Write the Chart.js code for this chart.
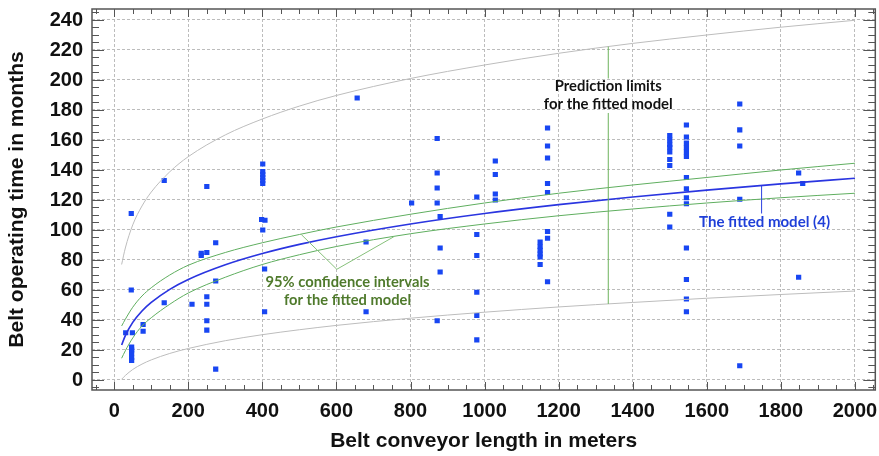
<!DOCTYPE html>
<html>
<head>
<meta charset="utf-8">
<script src="https://cdn.jsdelivr.net/npm/chart.js@4.4.0/dist/chart.umd.min.js"></script>
<style>
  html, body { margin: 0; padding: 0; background: #fff; }
</style>
</head>
<body>
<canvas id="chart" width="879" height="456"></canvas>
<script>
// observed data: belt conveyor length (m) vs operating time (months)
const pointX = [
  31, 46, 46, 49, 47, 47, 47, 47, 47,
  78, 78, 135, 135, 210, 235, 235,
  250, 250, 250, 250, 250, 250, 274, 274, 274,
  401, 401, 401, 401, 401, 401, 398, 407, 401, 406, 406,
  656, 680, 680, 803, 872, 872, 872, 872, 872, 880, 880, 880,
  979, 979, 979, 979, 979, 979, 1029, 1029, 1029, 1029,
  1150, 1150, 1150, 1150, 1150, 1150,
  1170, 1170, 1170, 1170, 1170, 1170, 1170, 1170,
  1500, 1500, 1500, 1500, 1500, 1500, 1500, 1500, 1500,
  1545, 1545, 1545, 1545, 1545, 1545, 1545, 1545, 1545, 1545, 1545, 1545, 1545, 1545,
  1689, 1689, 1689, 1689, 1689, 1848, 1848, 1859
];
const pointY = [
  31.5, 111, 60, 31.5, 22, 20, 18, 15, 13,
  37, 32.5, 133, 51.5, 50.5, 84.5, 83,
  129, 85, 55.5, 50.5, 39.5, 33.3, 91.5, 66, 7.3,
  144, 139, 137, 135, 133, 131, 107, 106.5, 100, 74, 45.5,
  188, 92, 45.5, 118, 161, 138, 128, 118, 39.5, 109, 88, 72,
  122, 97, 83, 58.5, 43, 26.7, 146, 137, 124, 120,
  92, 89, 86.5, 84, 82, 77,
  168, 156, 148, 131, 125, 99, 94.5, 65.5,
  163, 160, 157, 155, 152, 147, 143, 110.5, 102,
  170, 162, 158, 155, 152, 149, 135, 127.5, 121.5, 117.5, 88, 67, 54, 45.5,
  184, 166.7, 156, 120.5, 9.5, 138, 68.5, 131
];

// curves
const curveX     = [20, 30, 50, 75, 100, 150, 200, 300, 400, 500, 600, 800, 1000, 1200, 1400, 1600, 1800, 2000];
const fitted     = [23.3, 29.6, 38.4, 46, 51.7, 60.4, 67, 76.8, 84.3, 90.4, 95.5, 104, 111, 116.9, 122, 126.6, 130.7, 134.5];
const confUpper  = [36, 40.5, 48.5, 56, 61.5, 70, 76.5, 85, 91.5, 97, 102, 110.5, 118, 124.5, 130, 135, 140, 144.5];
const confLower  = [14.5, 19.5, 28, 36, 41.5, 50.5, 58, 68.5, 77, 83.5, 89, 97.5, 104, 109.5, 114, 118, 121.5, 124.5];
const predUpper  = [77, 88, 103.4, 116, 125.3, 138.8, 148.9, 163.4, 174, 182.6, 189.7, 201, 210, 217.8, 224.4, 230, 235.2, 239.8];
const predLower  = [0.5, 3, 7, 10.6, 13.4, 17.7, 21, 26.2, 30.2, 33.5, 36.4, 41.2, 45.2, 48.7, 51.7, 54.5, 57, 59.3];

const xTicks = [0, 200, 400, 600, 800, 1000, 1200, 1400, 1600, 1800, 2000];
const yTicks = [0, 20, 40, 60, 80, 100, 120, 140, 160, 180, 200, 220, 240];

function toXY(xs, ys) {
  return xs.map((x, i) => ({ x: x, y: ys[i] }));
}

const tickFont = { family: 'Liberation Sans', weight: 'bold', size: 20 };
const titleFont = { family: 'Liberation Sans', weight: 'bold', size: 21 };

// frame, inward tick marks and the callouts
const extrasPlugin = {
  id: 'extras',
  afterDatasetsDraw(chart) {
    const ctx = chart.ctx;
    const a = chart.chartArea;
    const xs = chart.scales.x;
    const ys = chart.scales.y;
    ctx.save();

    // ticks
    ctx.strokeStyle = '#555';
    ctx.lineWidth = 1;
    ctx.beginPath();
    for (let v = -50; v <= 2050; v += 50) {
      const px = Math.round(xs.getPixelForValue(v)) + 0.5;
      const len = v % 200 === 0 ? 8 : 5;
      ctx.moveTo(px, a.bottom); ctx.lineTo(px, a.bottom - len);
      ctx.moveTo(px, a.top); ctx.lineTo(px, a.top + len);
    }
    for (let v = -5; v <= 245; v += 5) {
      const py = Math.round(ys.getPixelForValue(v)) + 0.5;
      const len = v % 20 === 0 ? 12 : 7;
      ctx.moveTo(a.left, py); ctx.lineTo(a.left + len, py);
      ctx.moveTo(a.right, py); ctx.lineTo(a.right - len, py);
    }
    ctx.stroke();

    // frame
    ctx.strokeStyle = '#555';
    ctx.lineWidth = 1.5;
    ctx.strokeRect(a.left, a.top, a.right - a.left, a.bottom - a.top);

    const X = v => xs.getPixelForValue(v);
    const Y = v => ys.getPixelForValue(v);
    function poly(pts, color) {
      ctx.strokeStyle = color;
      ctx.lineWidth = 1;
      ctx.beginPath();
      pts.forEach((p, i) => i ? ctx.lineTo(X(p[0]), Y(p[1])) : ctx.moveTo(X(p[0]), Y(p[1])));
      ctx.stroke();
    }
    // pointer lines
    poly([[1334, 222.2], [1334, 201]], '#6db35c');
    poly([[1334, 178], [1334, 50.7]], '#6db35c');
    poly([[1748, 129.5], [1748, 111]], '#2a3fe0');
    poly([[505, 97], [601, 73.8], [755, 95.5]], '#86c07a');

    function label(text, x, y, color, width) {
      ctx.fillStyle = color;
      ctx.font = 'bold 16px Lato';
      ctx.textAlign = 'center';
      ctx.textBaseline = 'middle';
      ctx.fillText(text, X(x), Y(y), width);
    }
    label('Prediction limits', 1334, 196, '#111', 107);
    label('for the fitted model', 1334, 184, '#111', 129);
    label('The fitted model (4)', 1756, 105.3, '#1f3fd8', 131);
    label('95% confidence intervals', 630, 65.3, '#4f7a2c', 164);
    label('for the fitted model', 630, 53.3, '#4f7a2c', 127);
    ctx.restore();
  }
};

const ctx = document.getElementById('chart').getContext('2d');
new Chart(ctx, {
  type: 'scatter',
  data: {
    datasets: [
      {
        label: 'Prediction upper',
        data: toXY(curveX, predUpper),
        showLine: true, borderColor: '#bdbdbd', borderWidth: 1,
        pointRadius: 0, cubicInterpolationMode: 'monotone'
      },
      {
        label: 'Prediction lower',
        data: toXY(curveX, predLower),
        showLine: true, borderColor: '#bdbdbd', borderWidth: 1,
        pointRadius: 0, cubicInterpolationMode: 'monotone'
      },
      {
        label: 'Confidence upper',
        data: toXY(curveX, confUpper),
        showLine: true, borderColor: '#5fae5f', borderWidth: 1,
        pointRadius: 0, cubicInterpolationMode: 'monotone'
      },
      {
        label: 'Confidence lower',
        data: toXY(curveX, confLower),
        showLine: true, borderColor: '#5fae5f', borderWidth: 1,
        pointRadius: 0, cubicInterpolationMode: 'monotone'
      },
      {
        label: 'Fitted model',
        data: toXY(curveX, fitted),
        showLine: true, borderColor: '#2a35e0', borderWidth: 1.7,
        pointRadius: 0, cubicInterpolationMode: 'monotone'
      },
      {
        label: 'Observations',
        data: toXY(pointX, pointY),
        pointStyle: 'rect', pointRadius: 3.7, pointHoverRadius: 3.7,
        backgroundColor: '#1846f2', borderColor: '#1846f2', borderWidth: 0
      }
    ]
  },
  options: {
    responsive: false,
    animation: false,
    layout: { padding: { top: 9, right: 2, left: 0, bottom: 0 } },
    plugins: {
      legend: { display: false },
      tooltip: { enabled: false }
    },
    scales: {
      x: {
        type: 'linear',
        min: -60,
        max: 2055,
        afterBuildTicks: s => { s.ticks = xTicks.map(v => ({ value: v })); },
        afterFit: s => { s.height = 66; s.paddingLeft = 0; s.paddingRight = 0; },
        ticks: {
          font: tickFont, color: '#111', padding: 9, autoSkip: false, maxRotation: 0,
          callback: v => String(v)
        },
        grid: { color: '#bcbcbc', lineWidth: 1, drawTicks: false },
        border: { display: false, dash: [3, 2] },
        title: {
          display: true, text: 'Belt conveyor length in meters',
          font: titleFont, color: '#111', padding: { top: 0, bottom: 2 }
        }
      },
      y: {
        type: 'linear',
        min: -6.67,
        max: 247.33,
        afterBuildTicks: s => { s.ticks = yTicks.map(v => ({ value: v })); },
        afterFit: s => { s.width = 92; s.paddingTop = 0; s.paddingBottom = 0; },
        ticks: { font: tickFont, color: '#111', padding: 9, callback: v => String(v) },
        grid: { color: '#bcbcbc', lineWidth: 1, drawTicks: false },
        border: { display: false, dash: [3, 2] },
        title: {
          display: true, text: 'Belt operating time in months',
          font: titleFont, color: '#111', padding: { top: 5, bottom: 0 }
        }
      }
    }
  },
  plugins: [extrasPlugin]
});
</script>
</body>
</html>
